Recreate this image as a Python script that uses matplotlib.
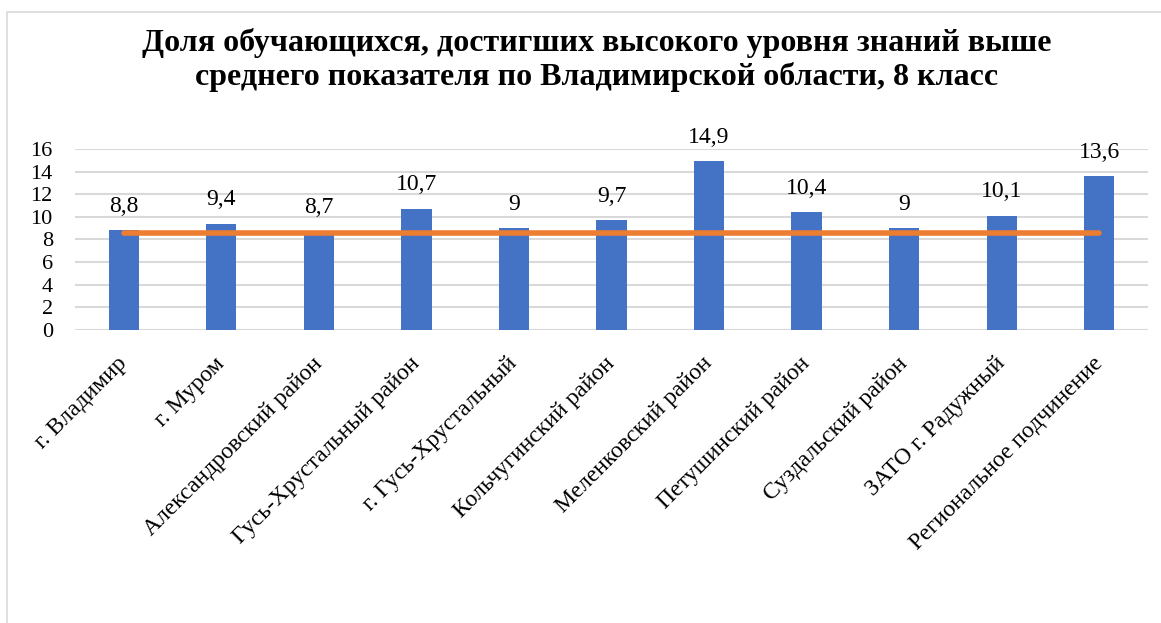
import matplotlib.pyplot as plt
from matplotlib.patches import Rectangle

# данные диаграммы
районы = ['г. Владимир', 'г. Муром', 'Александровский район', 'Гусь-Хрустальный район',
          'г. Гусь-Хрустальный', 'Кольчугинский район', 'Меленковский район',
          'Петушинский район', 'Суздальский район', 'ЗАТО г. Радужный',
          'Региональное подчинение']
доля = [8.8, 9.4, 8.7, 10.7, 9, 9.7, 14.9, 10.4, 9, 10.1, 13.6]
среднее_по_области = 8.6
деления_y = [0, 2, 4, 6, 8, 10, 12, 14, 16]

plt.rcParams['font.family'] = ['Liberation Serif', 'DejaVu Serif']

fig = plt.figure(figsize=(11.61, 6.23), dpi=100)
# рамка диаграммы
fig.patches.append(Rectangle((7 / 1161, -0.1), 1.2, 1 - 12 / 623 + 0.1,
                             transform=fig.transFigure, fill=False,
                             edgecolor='#d9d9d9', linewidth=1.2))

ax = fig.add_axes([75 / 1161, 1 - 330 / 623, (1148 - 75) / 1161, (330 - 149) / 623])

x = range(len(районы))
ax.bar(x, доля, width=0.31, color='#4472c4', zorder=3)
ax.plot([0, len(районы) - 1], [среднее_по_области] * 2, color='#ed7d31',
        linewidth=4, solid_capstyle='round', zorder=4)

for xi, v in zip(x, доля):
    ax.text(xi, v + 1.2, f'{v:g}'.replace('.', ','), ha='center', va='bottom',
            fontsize=17, zorder=5)

ax.set_ylim(0, 16)
ax.set_xlim(-0.5, len(районы) - 0.5)
ax.set_yticks(деления_y)
ax.set_yticklabels([str(t) for t in деления_y], fontsize=16)
ax.yaxis.grid(True, color='#d9d9d9', linewidth=1.5, zorder=0)
ax.set_axisbelow(True)
for s in ax.spines.values():
    s.set_visible(False)
ax.tick_params(axis='both', length=0)
ax.tick_params(axis='y', pad=16)

ax.set_xticks(list(x))
ax.set_xticklabels(районы, rotation=45, ha='right', va='center',
                   rotation_mode='anchor', fontsize=17)
ax.tick_params(axis='x', pad=22)

fig.text(597 / 1161, 1 - 60 / 623,
         'Доля обучающихся, достигших высокого уровня знаний выше\n'
         'среднего показателя по Владимирской области, 8 класс',
         ha='center', va='center', fontsize=23, fontweight='bold', linespacing=1.15)

fig.savefig('out.png', dpi=100)
